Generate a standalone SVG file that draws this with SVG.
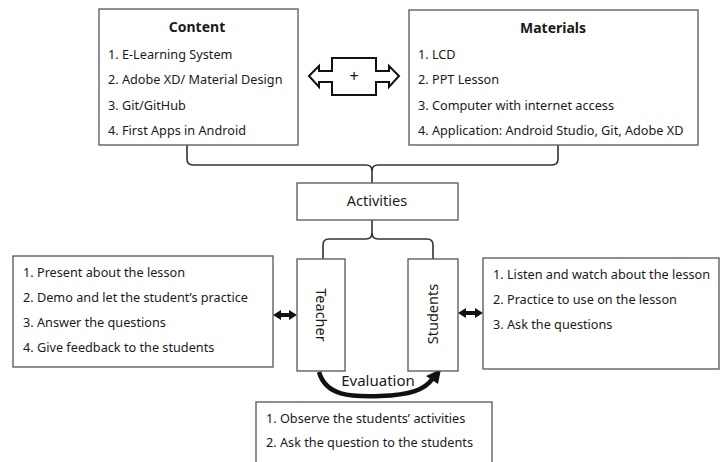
<svg xmlns="http://www.w3.org/2000/svg" width="720" height="462" viewBox="0 0 720 462">
  <style>
    .box { fill: #fff; stroke: #555; stroke-width: 1.3; }
    .link { fill: none; stroke: #333; stroke-width: 1.6; }
    .t { font-family: "Noto Sans", "Liberation Sans", sans-serif; font-size: 12.7px; fill: #1a1a1a; }
    .h { font-family: "Noto Sans", "Liberation Sans", sans-serif; font-size: 14px; font-weight: bold; fill: #1a1a1a; text-anchor: middle; }
    .lbl { font-family: "Noto Sans", "Liberation Sans", sans-serif; font-size: 14.5px; fill: #1a1a1a; text-anchor: middle; }
    .dbl { fill: #111; }
  </style>
  <rect width="720" height="462" fill="#fff"/>

  <!-- connectors -->
  <g id="connectors">
    <path class="link" d="M187,145 V159 Q187,165 193,165 H366 Q372,165 372,171 V183"/>
    <path class="link" d="M558,145 V159 Q558,165 552,165 H378 Q372,165 372,171"/>
    <path class="link" d="M372,220 V233 Q372,239 366,239 H329 Q323,239 323,245 V259"/>
    <path class="link" d="M372,233 Q372,239 378,239 H427 Q433,239 433,245 V259"/>
    <!-- side links between roles and their task lists -->
    <path class="dbl" d="M273,315 L281,310 V313 H289 V310 L297,315 L289,320 V317 H281 V320 Z"/>
    <path class="dbl" d="M458,313 L466,308 V311 H475 V308 L483,313 L475,318 V315 H466 V318 Z"/>
    <!-- evaluation loop -->
    <path d="M319,372 C326,396 350,397 380,396 C410,395 425,390 433,378" fill="none" stroke="#111" stroke-width="4.5"/>
    <path class="dbl" d="M426,376 L441,369 L438,384 Z"/>
  </g>

  <g id="content">
    <rect class="box" x="99" y="9" width="199" height="136"/>
    <text class="h" x="197" y="32">Content</text>
    <text class="t" x="108" y="59">1. E-Learning System</text>
    <text class="t" x="108" y="84">2. Adobe XD/ Material Design</text>
    <text class="t" x="108" y="110">3. Git/GitHub</text>
    <text class="t" x="108" y="135">4. First Apps in Android</text>
  </g>

  <g id="plus">
    <path d="M309,76 L319,66 V71 H332 V58 H376 V71 H389 V66 L399,76 L389,87 V82 H376 V95 H332 V82 H319 V87 Z" fill="#fff" stroke="#111" stroke-width="2"/>
    <text class="lbl" x="354" y="82" style="font-size:16px;fill:#111">+</text>
  </g>

  <g id="materials">
    <rect class="box" x="409" y="10" width="289" height="135"/>
    <text class="h" x="553" y="33">Materials</text>
    <text class="t" x="418" y="59">1. LCD</text>
    <text class="t" x="418" y="84">2. PPT Lesson</text>
    <text class="t" x="418" y="110">3. Computer with internet access</text>
    <text class="t" x="418" y="135">4. Application: Android Studio, Git, Adobe XD</text>
  </g>

  <g id="activities">
    <rect class="box" x="297" y="183" width="161" height="37"/>
    <text class="lbl" x="377" y="206">Activities</text>
  </g>

  <g id="teacher-tasks">
    <rect class="box" x="13" y="256" width="260" height="111"/>
    <text class="t" x="23" y="277">1. Present about the lesson</text>
    <text class="t" x="23" y="302">2. Demo and let the student’s practice</text>
    <text class="t" x="23" y="327">3. Answer the questions</text>
    <text class="t" x="23" y="352">4. Give feedback to the students</text>
  </g>

  <g id="teacher">
    <rect class="box" x="297" y="259" width="48" height="112"/>
    <text class="lbl" transform="translate(316,315) rotate(90)">Teacher</text>
  </g>

  <g id="students">
    <rect class="box" x="408" y="259" width="50" height="112"/>
    <text class="lbl" transform="translate(438,314) rotate(-90)">Students</text>
  </g>

  <g id="student-tasks">
    <rect class="box" x="483" y="258" width="236" height="111"/>
    <text class="t" x="493" y="279">1. Listen and watch about the lesson</text>
    <text class="t" x="493" y="304">2. Practice to use on the lesson</text>
    <text class="t" x="493" y="329">3. Ask the questions</text>
  </g>

  <g id="evaluation">
    <text class="lbl" x="378" y="386" style="font-size:15px">Evaluation</text>
    <rect class="box" x="256" y="402" width="236" height="70"/>
    <text class="t" x="266" y="423">1. Observe the students’ activities</text>
    <text class="t" x="266" y="447">2. Ask the question to the students</text>
  </g>
</svg>
